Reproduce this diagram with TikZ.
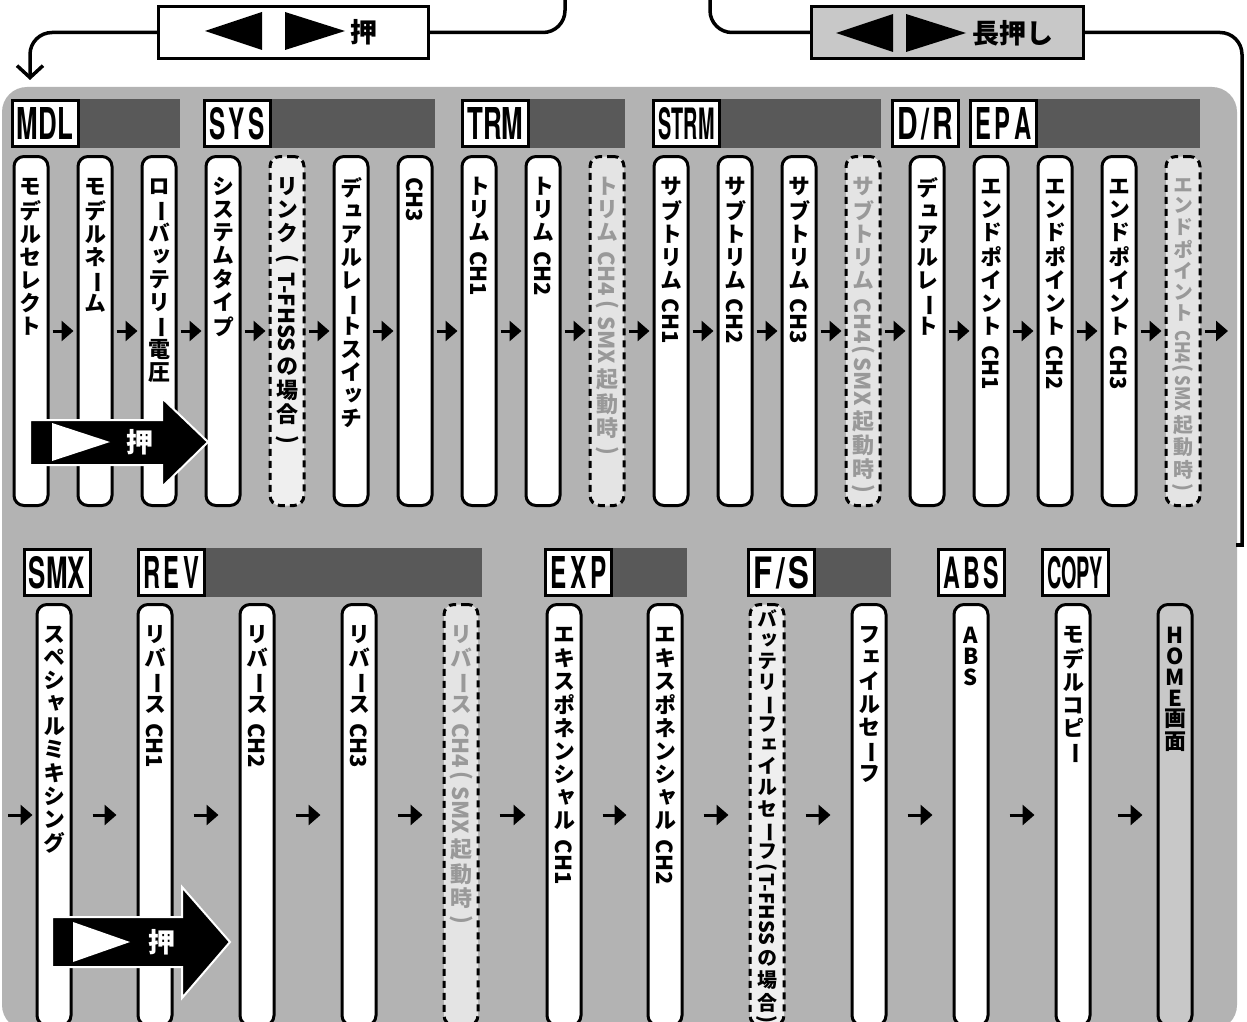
\documentclass[tikz,border=0pt]{standalone}
\usepackage{fontspec}
\usepackage{graphicx}
\usetikzlibrary{arrows.meta}
\newfontfamily\jp{Noto Sans CJK JP}
\newfontfamily\jpv{Noto Sans CJK JP}[RawFeature=+vert]
\newfontfamily\hfont{TeX Gyre Heros}
\definecolor{panelgray}{HTML}{B3B3B3}
\definecolor{bargray}{HTML}{595959}
\definecolor{optfill}{HTML}{EFEFEF}
\definecolor{smxfill}{HTML}{E4E4E4}
\definecolor{smxtext}{HTML}{999999}
\definecolor{homefill}{HTML}{C8C8C8}
\definecolor{btnfill}{HTML}{C8C8C8}
\newdimen\VPitch \VPitch=23pt
\newdimen\VParen \VParen=16pt
\def\VLatScale{1}
% upright CJK character slot
\newcommand\VJ[1]{\hbox to 30pt{\hss\vrule height \dimexpr\VPitch-5.5pt\relax depth 5.5pt width 0pt #1\hss}}
% upright single Latin letter slot
\newcommand\VL[1]{\hbox to 30pt{\hss\vrule height 18pt depth 3pt width 0pt {\jp\fontsize{22pt}{22pt}\selectfont #1}\hss}}
% rotated glyph in a slot of given height
\newcommand\VR[2]{\hbox to 30pt{\hss\vbox to #1{\vss\hbox{\rotatebox[origin=c]{-90}{\jp #2}}\vss}\hss}}
% rotated Latin run
\newcommand\VW[1]{\hbox to 30pt{\hss\rotatebox{-90}{\scalebox{\VLatScale}[1]{\jp\vrule height .74em depth 0pt width 0pt\relax#1\kern0pt}}\hss}}
\ExplSyntaxOn
\cs_new_protected:Npn \vp_item:n #1
  {
    \int_compare:nNnTF { \tl_count:n {#1} } > { 1 }
      { \VW {#1} }
      {
        \str_case:nnF {#1}
          {
            { ー } { \VR {\VPitch} {ー} }
            { （ } { \VR {\VParen} {(} }
            { ） } { \VR {\VParen} {)} }
          }
          {
            \tl_if_in:nnTF { ABCDEFGHIJKLMNOPQRSTUVWXYZ } {#1}
              { \VL {#1} }
              { \VJ {#1} }
          }
      }
  }
\NewDocumentCommand \vtext { O{23pt} O{16pt} O{1} m }
  {
    \vbox
      {
        \dim_set:Nn \VPitch {#1}
        \dim_set:Nn \VParen {#2}
        \def\VLatScale{#3}
        \offinterlineskip
        \tl_map_inline:nn {#4} { \vp_item:n {##1} }
      }
  }
\ExplSyntaxOff
\newcommand\hdrtxt[1]{\resizebox{56pt}{32pt}{\hfont\bfseries #1}}
\newcommand\MkCol[6]{%
  \node[#4] (#1) at (#2,#3) {};
  \node[coltxt,#5] (#1t) at ([yshift=-22pt]#1.north) {#6};
}
\begin{document}
\begin{tikzpicture}[x=1pt,y=-1pt,
  colbox/.style={rectangle, draw=black, line width=3pt, rounded corners=10pt, fill=white, minimum width=34pt, inner sep=0pt},
  rowone/.style={colbox, minimum height=349pt},
  rowtwo/.style={colbox, minimum height=421pt},
  optbox/.style={dash pattern=on 7pt off 5pt, fill=optfill},
  smxbox/.style={dash pattern=on 7pt off 5pt, fill=smxfill},
  homebox/.style={fill=homefill},
  coltxt/.style={anchor=north, inner sep=0pt, font=\jpv\bfseries\fontsize{22pt}{23pt}\selectfont, text=black},
  smallfont/.style={font=\jpv\bfseries\fontsize{20pt}{21pt}\selectfont},
  greytxt/.style={text=smxtext},
  hdr/.style={rectangle, draw=black, line width=3pt, fill=white, minimum width=66pt, minimum height=46pt, inner sep=0pt},
  btn/.style={rectangle, draw=black, line width=3pt, inner sep=0pt, minimum height=52pt},
  btntxt/.style={inner sep=0pt, font=\jp\bfseries\fontsize{27pt}{30pt}\selectfont},
  conn/.style={line width=3.5pt, draw=black},
  arr/.style={line width=3pt, -{Triangle[length=12pt,width=20pt]}},
  pushtxt/.style={inner sep=0pt, text=white, font=\jp\bfseries\fontsize{27pt}{29pt}\selectfont},
  bigarrow/.style={fill=black, draw=white, line width=2pt, line join=miter}
]
\useasboundingbox (0,0) rectangle (1247,1022);
\clip (0,0) rectangle (1247,1022);
\fill[white] (0,0) rectangle (1247,1022);
% panel
\fill[panelgray, rounded corners=25pt] (2,87) rectangle (1237,1030);

% ---- top buttons and connectors
\node[btn, fill=white, minimum width=270pt] (bL) at (293.5,32.5) {};
\node[btn, fill=btnfill, minimum width=272pt] (bR) at (947.5,32.5) {};
\fill (205,31) -- (262,12) -- (262,50) -- cycle;
\fill (285,12) -- (345,31) -- (285,50) -- cycle;
\node[btntxt] (bLt) at (364,32) {押};
\fill (836,33) -- (893,14) -- (893,52) -- cycle;
\fill (906,14) -- (966,33) -- (906,52) -- cycle;
\node[btntxt] (bRt) at (1013,33) {長押し};
\coordinate (tipL) at (30,80);
\coordinate (topL) at (565,-5);
\coordinate (topR) at (710,-5);
\coordinate (endR) at (1242,545);
\coordinate (endRa) at (1244,545);
\coordinate (endRb) at (1236,545);
\draw[conn, rounded corners=22pt, -{Straight Barb[length=12pt,width=26pt]}] (bL.west) -| (tipL);
\draw[conn, rounded corners=22pt] (bL.east) -| (topL);
\draw[conn, rounded corners=22pt] (topR) |- (bR.west);
\draw[conn, rounded corners=22pt] (bR.east) -| (endR);
\draw[conn] (endRa) -- (endRb);

% ---- row 1 headers
\fill[bargray] (45,99) rectangle (180,148);
\fill[bargray] (237,99) rectangle (435,148);
\fill[bargray] (495,99) rectangle (625,148);
\fill[bargray] (686,99) rectangle (881,148);
\fill[bargray] (1003,99) rectangle (1200,148);
\node[hdr] (hMDL) at (45,123.5) {\hdrtxt{MDL}};
\node[hdr] (hSYS) at (237,123.5) {\hdrtxt{S\kern.15em Y\kern.15em S}};
\node[hdr] (hTRM) at (495.5,123.5) {\hdrtxt{TRM}};
\node[hdr] (hSTRM) at (686.5,123.5) {\hdrtxt{STRM}};
\node[hdr] (hDR) at (925,123.5) {\hdrtxt{D\kern.12em/\kern.12em R}};
\node[hdr] (hEPA) at (1003.5,123.5) {\hdrtxt{E\kern.15em P\kern.15em A}};

% ---- row 2 headers
\fill[bargray] (171,548) rectangle (482,597);
\fill[bargray] (578,548) rectangle (687,597);
\fill[bargray] (781,548) rectangle (891,597);
\node[hdr] (hSMX) at (57,572.5) {\hdrtxt{SMX}};
\node[hdr] (hREV) at (171,572.5) {\hdrtxt{R\kern.15em E\kern.15em V}};
\node[hdr] (hEXP) at (578.5,572.5) {\hdrtxt{E\kern.15em X\kern.15em P}};
\node[hdr] (hFS) at (781.5,572.5) {\hdrtxt{F\kern.12em/\kern.12em S}};
\node[hdr] (hABS) at (971,572.5) {\hdrtxt{A\kern.15em B\kern.15em S}};
\node[hdr] (hCOPY) at (1075,572.5) {\hdrtxt{COPY}};

% ---- row 1 columns
\MkCol{a1}{31}{331}{rowone}{}{\vtext{モデルセレクト}}
\MkCol{a2}{95}{331}{rowone}{}{\vtext{モデルネーム}}
\MkCol{a3}{159}{331}{rowone}{}{\vtext{ローバッテリー電圧}}
\MkCol{a4}{223}{331}{rowone}{}{\vtext{システムタイプ}}
\MkCol{a5}{287}{331}{rowone,optbox}{}{\vtext[23pt][26pt]{リンク（{T-FHSS }の場合）}}
\MkCol{a6}{351}{331}{rowone}{}{\vtext{デュアルレートスイッチ}}
\MkCol{a7}{415}{331}{rowone}{}{\vtext{{CH3}}}
\MkCol{a8}{479}{331}{rowone}{}{\vtext{トリム{ CH1}}}
\MkCol{a9}{543}{331}{rowone}{}{\vtext{トリム{ CH2}}}
\MkCol{a10}{607}{331}{rowone,smxbox}{greytxt}{\vtext[23pt][20pt]{トリム{ CH4}（{SMX }起動時）}}
\MkCol{a11}{671}{331}{rowone}{}{\vtext{サブトリム{ CH1}}}
\MkCol{a12}{735}{331}{rowone}{}{\vtext{サブトリム{ CH2}}}
\MkCol{a13}{799}{331}{rowone}{}{\vtext{サブトリム{ CH3}}}
\MkCol{a14}{863}{331}{rowone,smxbox}{greytxt}{\vtext[23pt][14pt]{サブトリム{ CH4}（{SMX }起動時）}}
\MkCol{a15}{927}{331}{rowone}{}{\vtext{デュアルレート}}
\MkCol{a16}{991}{331}{rowone}{}{\vtext{エンドポイント{ CH1}}}
\MkCol{a17}{1055}{331}{rowone}{}{\vtext{エンドポイント{ CH2}}}
\MkCol{a18}{1119}{331}{rowone}{}{\vtext{エンドポイント{ CH3}}}
\MkCol{a19}{1183}{331}{rowone,smxbox}{greytxt,smallfont}{\vtext[20.5pt][12pt][0.82]{エンドポイント{ CH4}（{SMX }起動時）}}

% ---- row 2 columns
\MkCol{b1}{54}{815}{rowtwo}{}{\vtext{スペシャルミキシング}}
\MkCol{b2}{155}{815}{rowtwo}{}{\vtext{リバース{ CH1}}}
\MkCol{b3}{257}{815}{rowtwo}{}{\vtext{リバース{ CH2}}}
\MkCol{b4}{359}{815}{rowtwo}{}{\vtext{リバース{ CH3}}}
\MkCol{b5}{461}{815}{rowtwo,smxbox}{greytxt}{\vtext[23pt][18pt]{リバース{ CH4}（{SMX }起動時）}}
\MkCol{b6}{564}{815}{rowtwo}{}{\vtext{エキスポネンシャル{ CH1}}}
\MkCol{b7}{665}{815}{rowtwo}{}{\vtext{エキスポネンシャル{ CH2}}}
\MkCol{b8}{767}{815}{rowtwo,optbox}{smallfont,yshift=16pt}{\vtext[21pt][10pt]{バッテリーフェイルセーフ（{T-FHSS }の場合）}}
\MkCol{b9}{869}{815}{rowtwo}{}{\vtext{フェイルセーフ}}
\MkCol{b10}{971}{815}{rowtwo}{}{\vtext{ABS}}
\MkCol{b11}{1073}{815}{rowtwo}{}{\vtext{モデルコピー}}
\MkCol{b12}{1175}{815}{rowtwo,homebox}{}{\vtext{HOME画面}}

% ---- row 1 arrows
\foreach \i [evaluate=\i as \j using int(\i+1)] in {1,...,18}
  \draw[arr, shorten <=3pt, shorten >=3pt] (a\i.east) -- (a\j.west);
\coordinate (aend) at (1228,331);
\draw[arr, shorten <=3pt] (a19.east) -- (aend);

% ---- row 2 arrows
\coordinate (bstart) at (8,815);
\draw[arr, shorten >=3pt] (bstart) -- (b1.west);
\foreach \i [evaluate=\i as \j using int(\i+1)] in {1,...,10}
  \draw[arr, shorten <=20pt, shorten >=20pt] (b\i.east) -- (b\j.west);
\draw[arr, shorten <=26pt, shorten >=14pt] (b11.east) -- (b12.west);

% ---- big push arrows
\path[bigarrow] (30,420) -- (162,420) -- (162,398) -- (208,442) -- (162,487) -- (162,465) -- (30,465) -- cycle;
\fill[white] (52,423) -- (110,442) -- (52,461) -- cycle;
\node[pushtxt] (push1) at (140,442) {押};
\path[bigarrow] (52,917) -- (182,917) -- (182,887) -- (230,942) -- (182,998) -- (182,967) -- (52,967) -- cycle;
\fill[white] (73,922) -- (130,942) -- (73,962) -- cycle;
\node[pushtxt] (push2) at (162,942) {押};
\end{tikzpicture}
\end{document}
